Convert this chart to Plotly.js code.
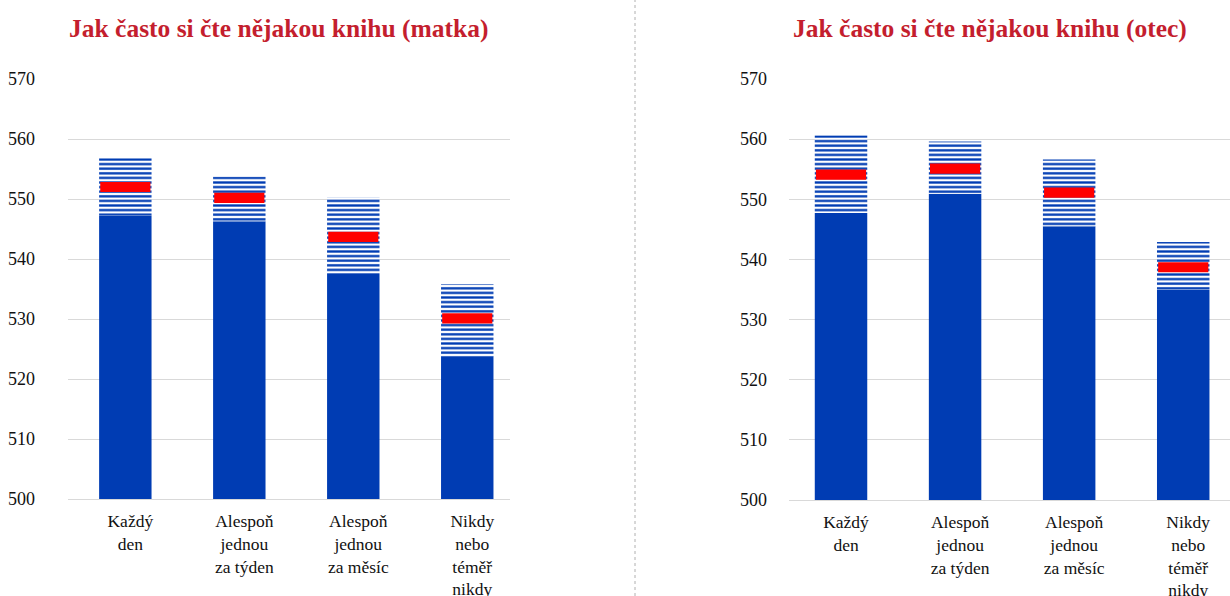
<!DOCTYPE html>
<html>
<head>
<meta charset="utf-8">
<script src="https://cdn.plot.ly/plotly-3.0.1.min.js"></script>
<style>html,body{margin:0;padding:0;background:#fff;}#chart{width:1230px;height:596px;}</style>
</head>
<body>
<div id="chart"></div>
<script>
const categories = ['Každý<br>den', 'Alespoň<br>jednou<br>za týden', 'Alespoň<br>jednou<br>za měsíc', 'Nikdy<br>nebo<br>téměř<br>nikdy'];
const motherLow  = [547.2, 546.3, 537.5, 523.8];
const motherMean = [552.0, 550.2, 543.7, 530.1];
const motherHigh = [556.8, 553.7, 550.2, 535.8];
const fatherLow  = [547.7, 550.9, 545.5, 534.9];
const fatherMean = [554.1, 555.1, 551.1, 538.7];
const fatherHigh = [560.6, 559.6, 556.6, 542.9];
const titles = ['Jak často si čte nějakou knihu (matka)', 'Jak často si čte nějakou knihu (otec)'];
const yTicks = [500, 510, 520, 530, 540, 550, 560, 570];

const BLUE = '#003cb3';
const RED = '#ff0000';
const MEAN_H = 1.7;
const W = 1230, H = 596;
const FONT = "'Liberation Serif', 'Times New Roman', serif";

function traces(low, mean, high, xa, ya) {
  return [
    {type: 'bar', x: categories, y: low, xaxis: xa, yaxis: ya, width: 0.46,
     marker: {color: BLUE, line: {width: 0}}, hoverinfo: 'skip'},
    {type: 'bar', x: categories, y: high.map((h, i) => h - low[i]), base: low, xaxis: xa, yaxis: ya, width: 0.46,
     marker: {color: 'white', line: {width: 0},
              pattern: {shape: '-', fgcolor: BLUE, bgcolor: 'white', size: 4.6, solidity: 0.5, fillmode: 'replace'}},
     hoverinfo: 'skip'},
    {type: 'bar', x: categories, y: mean.map(() => MEAN_H), base: mean.map(m => m - MEAN_H / 2), xaxis: xa, yaxis: ya, width: 0.44,
     marker: {color: RED, line: {width: 0}}, hoverinfo: 'skip'}
  ];
}

const data = [].concat(
  traces(motherLow, motherMean, motherHigh, 'x', 'y'),
  traces(fatherLow, fatherMean, fatherHigh, 'x2', 'y2')
);

const px = v => v / W;
const py = v => 1 - v / H;

const axisX = (domain, range, shift) => ({
  domain: domain, range: range, type: 'category', showgrid: false, zeroline: false,
  showline: true, linecolor: '#d9d9d9', linewidth: 1, ticks: '', fixedrange: true,
  tickfont: {family: FONT, size: 17.5, color: '#111'}, ticklabelshift: shift, ticklabelstandoff: 6
});
const axisY = (domain, standoff, anchor) => ({
  domain: domain, range: [500, 570], tickvals: yTicks, showgrid: true, gridcolor: '#d9d9d9', gridwidth: 1,
  zeroline: false, showline: false, ticks: '', anchor: anchor, fixedrange: true,
  tickfont: {family: FONT, size: 18, color: '#111'}, ticklabelstandoff: standoff
});

const layout = {
  width: W, height: H,
  margin: {l: 0, r: 0, t: 0, b: 0},
  paper_bgcolor: 'white', plot_bgcolor: 'white',
  barmode: 'overlay', showlegend: false,
  xaxis: axisX([px(68), px(510)], [-0.503, 3.375], 5),
  yaxis: axisY([py(499), py(79)], 32, 'x'),
  xaxis2: Object.assign(axisX([px(789), 1], [-0.456, 3.41], 5), {anchor: 'y2'}),
  yaxis2: axisY([py(500), py(79)], 21, 'x2'),
  annotations: [
    {text: '<b>' + titles[0] + '</b>', xref: 'paper', yref: 'paper', x: px(67), y: py(29),
     xanchor: 'left', yanchor: 'middle', showarrow: false, font: {family: FONT, size: 25.5, color: '#c41e2e'}},
    {text: '<b>' + titles[1] + '</b>', xref: 'paper', yref: 'paper', x: px(791), y: py(29),
     xanchor: 'left', yanchor: 'middle', showarrow: false, font: {family: FONT, size: 25.5, color: '#c41e2e'}}
  ],
  shapes: [
    {type: 'line', xref: 'paper', yref: 'paper', x0: px(635), x1: px(635), y0: 0, y1: 1,
     line: {color: '#b0b0b0', width: 1, dash: 'dot'}}
  ]
};

Plotly.newPlot('chart', data, layout, {displayModeBar: false, staticPlot: true});
</script>
</body>
</html>
